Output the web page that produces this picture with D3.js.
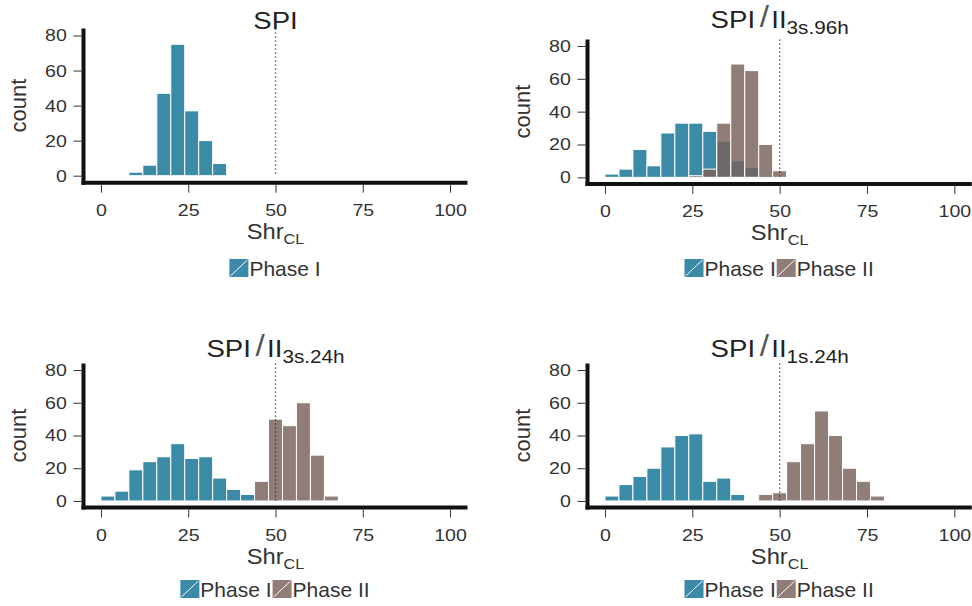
<!DOCTYPE html>
<html>
<head>
<meta charset="utf-8">
<script src="https://cdn.jsdelivr.net/npm/d3@7"></script>
<style>
  body { margin: 0; background: #fff; }
  svg { display: block; font-family: "Liberation Sans", Arial, sans-serif; }
</style>
</head>
<body>
<div id="chart"></div>
<script>
// Histogram counts, bins of width 4 starting at 0
const binWidth = 4;
const xTicks = [0, 25, 50, 75, 100];
const yTicks = [0, 20, 40, 60, 80];
const phaseLabels = ['Phase I', 'Phase II'];

const spiPhaseI   = [0, 0, 2, 6, 47, 75, 37, 20, 7];
const s96PhaseI   = [2, 5, 17, 7, 27, 33, 33, 28, 22, 10, 6, 1];
const s96PhaseII  = [0, 0, 0, 0, 0, 0, 1, 5, 33, 69, 65, 20, 4];
const s24PhaseI   = [3, 6, 19, 24, 27, 35, 26, 27, 14, 7, 4, 1];
const s24PhaseII  = [0, 0, 0, 0, 0, 0, 0, 0, 0, 0, 0, 12, 50, 46, 60, 28, 3];
const s1PhaseI    = [3, 10, 15, 20, 33, 40, 41, 12, 14, 4];
const s1PhaseII   = [0, 0, 0, 0, 0, 0, 0, 0, 0, 0, 0, 4, 5, 24, 35, 55, 40, 20, 12, 3];

const blue = '#3a8aa8';
const brown = '#77605a';

const svg = d3.select('#chart').append('svg')
    .attr('width', 972)
    .attr('height', 606);

const panels = [
    { title: 'SPI', sub: null, left: 83.5, right: 467.5, top: 28.5, bottom: 182.7, titleY: 29, legendY: 259,
      series: [{ counts: spiPhaseI, color: blue, opacity: 1 }] },
    { title: 'SPI', sub: '3s.96h', left: 587.5, right: 971.8, top: 39.4, bottom: 183.9, titleY: 28, legendY: 259,
      series: [{ counts: s96PhaseI, color: blue, opacity: 1 }, { counts: s96PhaseII, color: brown, opacity: 0.82 }] },
    { title: 'SPI', sub: '3s.24h', left: 83.5, right: 467.5, top: 363.5, bottom: 507.5, titleY: 357, legendY: 580,
      series: [{ counts: s24PhaseI, color: blue, opacity: 1 }, { counts: s24PhaseII, color: brown, opacity: 0.82 }] },
    { title: 'SPI', sub: '1s.24h', left: 587.5, right: 971.8, top: 363.5, bottom: 507.5, titleY: 357, legendY: 580,
      series: [{ counts: s1PhaseI, color: blue, opacity: 1 }, { counts: s1PhaseII, color: brown, opacity: 0.82 }] }
];

panels.forEach(p => {
    const x = d3.scaleLinear().domain([-5, 105]).range([p.left, p.right]);
    const y = d3.scaleLinear().domain([-4, 84]).range([p.bottom, p.top]);
    const g = svg.append('g');
    const cx = (p.left + p.right) / 2;

    // Bars
    p.series.forEach(s => {
        const bins = s.counts.map((c, i) => ({ x0: i * binWidth, c: c })).filter(d => d.c > 0);
        g.append('g').selectAll('rect')
            .data(bins)
            .join('rect')
            .attr('x', d => x(d.x0))
            .attr('width', d => x(d.x0 + binWidth) - x(d.x0))
            .attr('y', d => y(d.c))
            .attr('height', d => y(0) - y(d.c))
            .attr('fill', s.color)
            .attr('fill-opacity', s.opacity)
            .attr('stroke', '#fff')
            .attr('stroke-width', 1);
    });

    // Dotted reference line at 50
    g.append('line')
        .attr('x1', x(50)).attr('x2', x(50))
        .attr('y1', p.top).attr('y2', y(0))
        .attr('stroke', '#333')
        .attr('stroke-width', 1.3)
        .attr('stroke-dasharray', '1.3,2.7');

    // Axes (ticks + labels), labels a little wide like the original
    const xa = g.append('g')
        .attr('transform', `translate(0,${p.bottom + 2})`)
        .call(d3.axisBottom(x).tickValues(xTicks).tickSize(8).tickPadding(11));
    const ya = g.append('g')
        .attr('transform', `translate(${p.left - 2},0)`)
        .call(d3.axisLeft(y).tickValues(yTicks).tickSize(8).tickPadding(7));
    [xa, ya].forEach(a => {
        a.select('.domain').remove();
        a.selectAll('line').attr('stroke', '#333');
        a.selectAll('text').attr('fill', '#333').style('font-size', '17px');
    });
    xa.selectAll('text').attr('transform', 'scale(1.15,1)');
    ya.selectAll('text').attr('transform', 'translate(-17,0) scale(1.15,1) translate(17,0)');

    // Thick axis lines
    g.append('line')
        .attr('x1', p.left).attr('x2', p.left)
        .attr('y1', p.top).attr('y2', p.bottom + 2)
        .attr('stroke', '#111').attr('stroke-width', 4);
    g.append('line')
        .attr('x1', p.left - 2).attr('x2', p.right)
        .attr('y1', p.bottom).attr('y2', p.bottom)
        .attr('stroke', '#111').attr('stroke-width', 4);

    // Axis titles
    g.append('text')
        .attr('transform', `translate(${p.left - 65},${(p.top + p.bottom) / 2}) rotate(-90)`)
        .attr('text-anchor', 'middle')
        .attr('dy', '0.35em')
        .attr('fill', '#333')
        .style('font-size', '22px')
        .text('count');
    const xt = g.append('text')
        .attr('transform', `translate(${cx},${p.bottom + 56}) scale(1.08,1)`)
        .attr('text-anchor', 'middle')
        .attr('fill', '#333')
        .style('font-size', '22px');
    xt.append('tspan').text('Shr');
    xt.append('tspan').attr('dy', 5).style('font-size', '15px').text('CL');

    // Panel title
    const tt = g.append('text')
        .attr('transform', `translate(${cx},${p.titleY}) scale(1.15,1)`)
        .attr('text-anchor', 'middle')
        .attr('fill', '#222')
        .style('font-size', '24px')
        .text(p.title);
    if (p.sub) {
        tt.append('tspan').attr('dx', 4).attr('dy', -1).attr('fill', '#555')
            .style('font-size', '29px').style('font-weight', 300).text('/');
        tt.append('tspan').attr('dx', 2).attr('dy', 1).text('II');
        tt.append('tspan').attr('dy', 6).style('font-size', '18px').text(p.sub);
    }

    // Legend (centred under panel)
    const lg = g.append('g');
    let lx = 0;
    p.series.forEach((s, i) => {
        const item = lg.append('g').attr('transform', `translate(${lx},0)`);
        item.append('rect')
            .attr('x', 0).attr('y', 0)
            .attr('width', 19).attr('height', 18)
            .attr('fill', s.color)
            .attr('fill-opacity', s.opacity);
        item.append('line')
            .attr('x1', 1).attr('y1', 17).attr('x2', 18).attr('y2', 1)
            .attr('stroke', '#fff').attr('stroke-width', 1);
        const t = item.append('text')
            .attr('x', 20)
            .attr('y', 17)
            .attr('fill', '#333')
            .style('font-size', '21px')
            .text(phaseLabels[i]);
        lx += 20 + t.node().getComputedTextLength() + 1;
    });
    lg.attr('transform', `translate(${cx - lx / 2},${p.legendY})`);
});
</script>
</body>
</html>
